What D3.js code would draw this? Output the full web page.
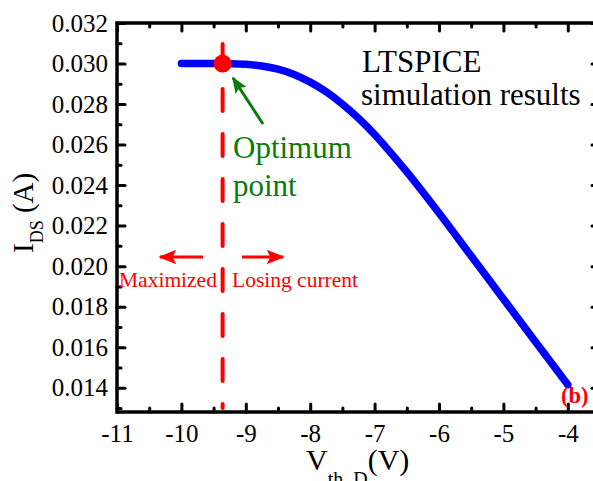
<!DOCTYPE html>
<html><head><meta charset="utf-8">
<script src="https://cdn.jsdelivr.net/npm/d3@7"></script>
<style>
body{margin:0;background:#fff;}
svg{display:block;font-family:"Liberation Serif","Times New Roman",serif;}
</style></head>
<body><svg id="c" width="593" height="481"></svg>
<script>
const vth = [-10, -9.5, -9.25, -9, -8.75, -8.5, -8.25, -8, -7.75, -7.5, -7.25, -7, -6.5, -6, -5.5, -5, -4.5, -4];
const ids = [0.0300, 0.0300, 0.02999, 0.02996, 0.02988, 0.02972, 0.02946, 0.02908, 0.0286, 0.0280, 0.0273, 0.0265, 0.02465, 0.02262, 0.0205, 0.01838, 0.01626, 0.01415];
const xTicks = [-11, -10, -9, -8, -7, -6, -5, -4];
const yTicks = [0.014, 0.016, 0.018, 0.020, 0.022, 0.024, 0.026, 0.028, 0.030, 0.032];
const optimumV = [-9.36];
const optimumI = [0.0300];

const svg = d3.select("#c");
const L = 117, T = 23, R = 600, B = 412;
const x = d3.scaleLinear().domain([-11, -3.5]).range([L, R]);
const y = d3.scaleLinear().domain([0.0128, 0.032]).range([B, T]);

const defs = svg.append("defs");
function marker(id, color, w) {
  defs.append("marker").attr("id", id).attr("viewBox", "0 0 10 10").attr("refX", 9).attr("refY", 5)
    .attr("markerWidth", w).attr("markerHeight", w * 0.8).attr("markerUnits", "strokeWidth").attr("orient", "auto")
    .attr("preserveAspectRatio", "none")
    .append("path").attr("d", "M0,0L10,5L0,10L2,5z").attr("fill", color);
}
marker("ag", "#0a7a0a", 5.5);
marker("ar", "#ff0000", 6);

const xMinor = d3.range(-10.5, -3.5, 1);
const yMinor = d3.range(0.013, 0.0321, 0.002);
const fmtX = d => String(d);

function styleAxis(g) {
  g.selectAll(".tick line").attr("stroke", "#000").attr("stroke-width", 3).attr("stroke-linecap", "round");
  g.select(".domain").remove();
  g.selectAll("text").attr("font-size", 25).attr("fill", "#000").attr("font-family", "Liberation Serif");
}
// bottom
svg.append("g").attr("transform", `translate(0,${B})`)
  .call(d3.axisBottom(x).tickValues(xTicks).tickFormat(fmtX).tickSize(-8).tickPadding(12)).call(styleAxis);
svg.append("g").attr("transform", `translate(0,${B})`)
  .call(d3.axisBottom(x).tickValues(xMinor).tickFormat("").tickSize(-4)).call(styleAxis);
// top
svg.append("g").attr("transform", `translate(0,${T})`)
  .call(d3.axisTop(x).tickValues(xTicks).tickFormat("").tickSize(-8)).call(styleAxis);
svg.append("g").attr("transform", `translate(0,${T})`)
  .call(d3.axisTop(x).tickValues(xMinor).tickFormat("").tickSize(-4)).call(styleAxis);
// left
svg.append("g").attr("transform", `translate(${L},0)`)
  .call(d3.axisLeft(y).tickValues(yTicks).tickFormat(d3.format(".3f")).tickSize(-8).tickPadding(9)).call(styleAxis);
svg.append("g").attr("transform", `translate(${L},0)`)
  .call(d3.axisLeft(y).tickValues(yMinor).tickFormat("").tickSize(-4)).call(styleAxis);
// right
svg.append("g").attr("transform", `translate(${R},0)`)
  .call(d3.axisRight(y).tickValues(yTicks).tickFormat("").tickSize(-8)).call(styleAxis);
svg.append("g").attr("transform", `translate(${R},0)`)
  .call(d3.axisRight(y).tickValues(yMinor).tickFormat("").tickSize(-4)).call(styleAxis);

// frame
svg.append("rect").attr("x", L).attr("y", T).attr("width", R - L).attr("height", B - T)
  .attr("fill", "none").attr("stroke", "#000").attr("stroke-width", 3.5);

// dashed vertical line
svg.append("line").attr("x1", x(optimumV[0])).attr("x2", x(optimumV[0])).attr("y1", 44).attr("y2", 408)
  .attr("stroke", "#ff0000").attr("stroke-width", 4).attr("stroke-dasharray", "22,23").attr("stroke-linecap", "round");

// curve
const line = d3.line().x((d, i) => x(vth[i])).y((d, i) => y(ids[i])).curve(d3.curveCatmullRom.alpha(0.5));
svg.append("path").datum(vth).attr("d", line).attr("fill", "none").attr("stroke", "#0000ff")
  .attr("stroke-width", 7.5).attr("stroke-linecap", "round");

// optimum point
svg.append("circle").attr("cx", x(optimumV[0])).attr("cy", y(optimumI[0])).attr("r", 9).attr("fill", "#ff0000");

// green arrow + text
svg.append("line").attr("x1", 263).attr("y1", 124).attr("x2", 233).attr("y2", 78)
  .attr("stroke", "#0a7a0a").attr("stroke-width", 3).attr("marker-end", "url(#ag)");
svg.append("text").attr("x", 233).attr("y", 158).attr("font-size", 31).attr("fill", "#0a7a0a").text("Optimum");
svg.append("text").attr("x", 233).attr("y", 196).attr("font-size", 31).attr("fill", "#0a7a0a").text("point");

// LTSPICE text
svg.append("text").attr("x", 362).attr("y", 72).attr("font-size", 31).attr("fill", "#000").text("LTSPICE");
svg.append("text").attr("x", 361).attr("y", 105).attr("font-size", 31).attr("fill", "#000").text("simulation results");

// red arrows + labels
svg.append("line").attr("x1", 203).attr("y1", 257).attr("x2", 160).attr("y2", 257)
  .attr("stroke", "#ff0000").attr("stroke-width", 3).attr("marker-end", "url(#ar)");
svg.append("line").attr("x1", 242).attr("y1", 257).attr("x2", 283).attr("y2", 257)
  .attr("stroke", "#ff0000").attr("stroke-width", 3).attr("marker-end", "url(#ar)");
svg.append("text").attr("x", 119).attr("y", 287).attr("font-size", 21.5).attr("fill", "#ff0000").text("Maximized");
svg.append("text").attr("x", 232).attr("y", 287).attr("font-size", 21.5).attr("fill", "#ff0000").text("Losing current");

// (b)
svg.append("text").attr("x", 561).attr("y", 403).attr("font-size", 22.5).attr("font-weight", "bold").attr("fill", "#ff0000").text("(b)");

// axis titles
const xt = svg.append("text").attr("x", 306).attr("y", 470).attr("font-size", 30).attr("fill", "#000");
xt.append("tspan").text("V");
xt.append("tspan").attr("font-size", 20).attr("dy", 16).text("th_D");
xt.append("tspan").attr("dy", -16).text("(V)");

const yt = svg.append("text").attr("transform", "translate(33,253) rotate(-90)").attr("font-size", 29).attr("fill", "#000");
yt.append("tspan").text("I");
yt.append("tspan").attr("font-size", 18).attr("dy", 10).text("DS");
yt.append("tspan").attr("dy", -10).text(" (A)");
</script></body></html>
